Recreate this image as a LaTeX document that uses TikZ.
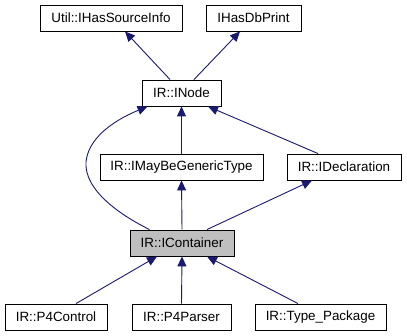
\documentclass[tikz,border=0pt]{standalone}
\usepackage{fontspec}
\setmainfont{Liberation Sans}
\usetikzlibrary{arrows.meta}
\definecolor{edgeblue}{HTML}{191970}
\definecolor{boxgray}{HTML}{BFBFBF}
\begin{document}
\begin{tikzpicture}[x=1pt,y=-1pt,
  cls/.style={draw=black, line width=0.9pt, fill=white, minimum height=26pt,
    inner sep=0pt, font=\fontsize{13.4}{16}\selectfont},
  edge/.style={draw=edgeblue, line width=0.9pt,
    {Triangle[length=10pt,width=9pt,fill=edgeblue]}-}]
\useasboundingbox (0,0) rectangle (407,336);
% classes
\node[cls, minimum width=142pt] (uhs) at (111,18) {Util::IHasSourceInfo};
\node[cls, minimum width=95pt] (hdb) at (253.5,18) {IHasDbPrint};
\node[cls, minimum width=79pt] (inode) at (181.5,93) {IR::INode};
\node[cls, minimum width=163pt] (imbg) at (181.5,167) {IR::IMayBeGenericType};
\node[cls, minimum width=114pt] (idecl) at (344,167) {IR::IDeclaration};
\node[cls, minimum width=104pt, fill=boxgray] (ic) at (182,243) {IR::IContainer};
\node[cls, minimum width=102pt] (p4c) at (56,317) {IR::P4Control};
\node[cls, minimum width=99pt] (p4p) at (181.5,317) {IR::P4Parser};
\node[cls, minimum width=131pt] (tp) at (320.5,317) {IR::Type\_Package};
% inheritance arrows (tip at the base class)
\draw[edge] ([xshift=14]uhs.south) -- ([xshift=-11.5]inode.north);
\draw[edge] ([xshift=-13.5]hdb.south) -- ([xshift=12.5]inode.north);
\draw[edge] (inode.south) -- (imbg.north);
\draw[edge] ([xshift=26.5]inode.south) -- ([xshift=-26]idecl.north);
\draw[edge] ([xshift=6]inode.south west) .. controls (110,122) and (88,140) .. (86,162)
  .. controls (84,190) and (120,215) .. ([xshift=20]ic.north west);
\draw[edge] (imbg.south) -- (ic.north);
\draw[edge] ([xshift=-32]idecl.south) -- ([xshift=25]ic.north);
\draw[edge] ([xshift=-25]ic.south) -- ([xshift=20]p4c.north);
\draw[edge] (ic.south) -- (p4p.north);
\draw[edge] ([xshift=25]ic.south) -- ([xshift=-22.5]tp.north);
\end{tikzpicture}
\end{document}
